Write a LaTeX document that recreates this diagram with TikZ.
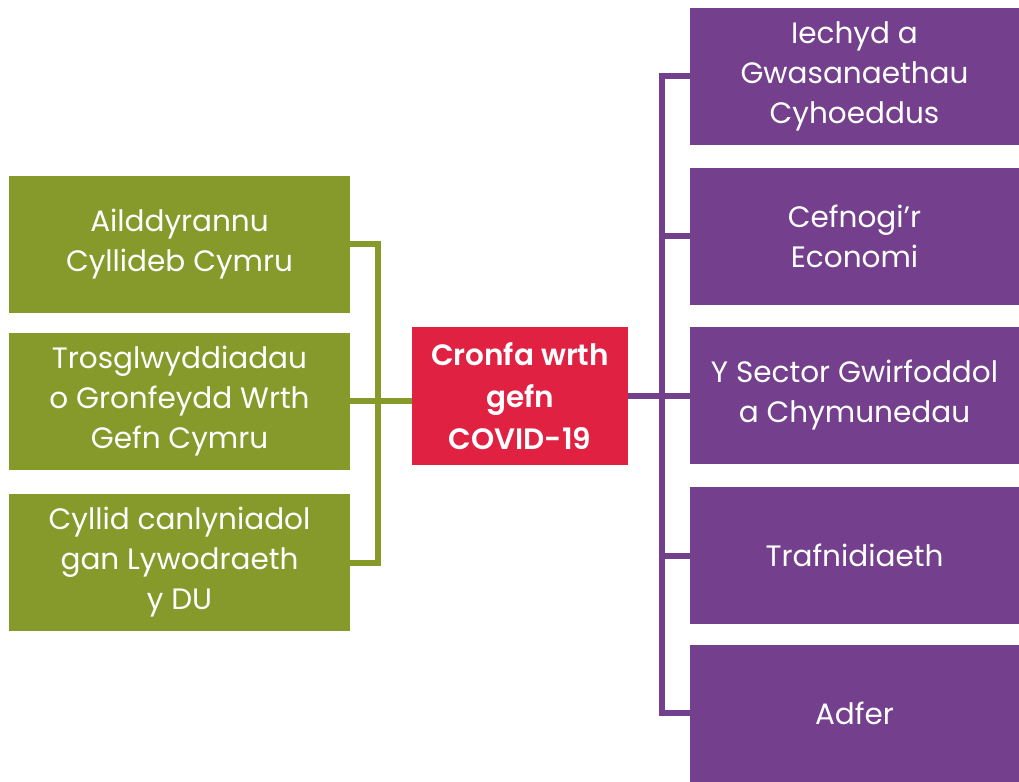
\documentclass[tikz,border=0pt]{standalone}
\usepackage{fontspec}
\setmainfont{Poppins}[BoldFont={Poppins SemiBold}]
\usetikzlibrary{positioning}
\definecolor{fundgreen}{RGB}{134,154,44}
\definecolor{fundpurple}{RGB}{116,64,141}
\definecolor{fundred}{RGB}{225,33,66}

\begin{document}
\begin{tikzpicture}[
    x=1pt, y=-1pt,
    box/.style={rectangle, inner sep=0pt, minimum height=137pt, align=center, text=white, font=\fontsize{29.5}{40}\selectfont},
    source/.style={box, fill=fundgreen, minimum width=341pt},
    fund/.style={box, fill=fundred, minimum width=216pt, minimum height=138pt, font=\fontsize{29.5}{42}\selectfont\bfseries},
    use/.style={box, fill=fundpurple, minimum width=329pt},
    gline/.style={draw=fundgreen, line width=6pt},
    pline/.style={draw=fundpurple, line width=6pt}
]
\useasboundingbox (0,0) rectangle (1019,781);

% Nodes
\node[source] (realloc) at (179.5,244) {Ailddyrannu\\Cyllideb Cymru};
\node[source] (transfer) at (179.5,401) {Trosglwyddiadau\\o Gronfeydd Wrth\\Gefn Cymru};
\node[source] (conseq) at (179.5,562.5) {Cyllid canlyniadol\\gan Lywodraeth\\y DU};
\node[fund] (covid) at (520,396) {Cronfa wrth\\gefn\\COVID-19};
\node[use] (health) at (854.5,76.5) {Iechyd a\\Gwasanaethau\\Cyhoeddus};
\node[use] (economy) at (854.5,236) {Cefnogi’r\\Economi};
\node[use] (voluntary) at (854.5,395.5) {Y Sector Gwirfoddol\\a Chymunedau};
\node[use] (transport) at (854.5,555.5) {Trafnidiaeth};
\node[use] (recovery) at (854.5,713) {Adfer};

\coordinate (gbus) at (378,0);
\coordinate (pbus) at (662,0);

% Lines
\draw[gline] (realloc.east) -- (realloc.east -| gbus) -- (conseq.east -| gbus) -- (conseq.east);
\draw[gline] (transfer.east) -- (covid.west |- transfer.east);
\draw[pline] (health.west) -- (health.west -| pbus) -- (recovery.west -| pbus) -- (recovery.west);
\draw[pline] (covid.east) -- (voluntary.west |- covid.east);
\draw[pline] (economy.west) -- (economy.west -| pbus);
\draw[pline] (transport.west) -- (transport.west -| pbus);
\end{tikzpicture}
\end{document}
